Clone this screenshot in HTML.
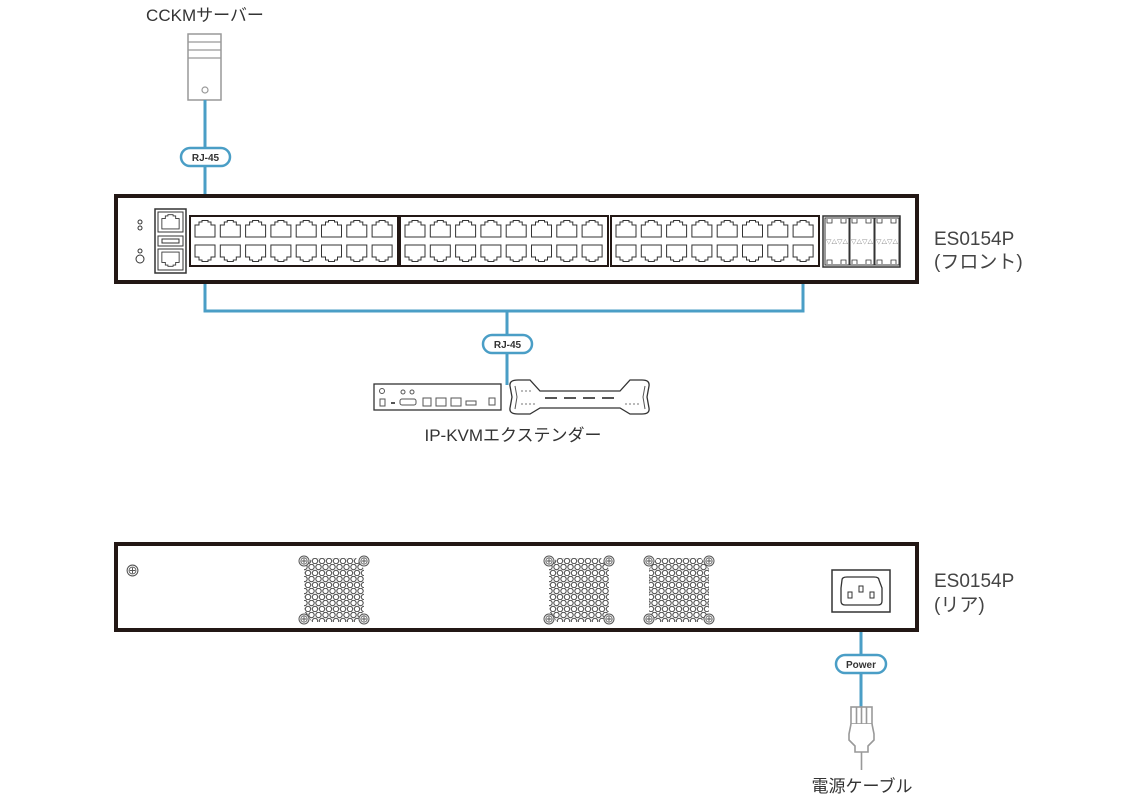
<!DOCTYPE html>
<html><head><meta charset="utf-8"><style>
body{margin:0;background:#fff}
svg{display:block}
text{font-family:"Liberation Sans","Noto Sans CJK JP",sans-serif}
</style></head><body>
<svg id="s" width="1140" height="800" viewBox="0 0 1140 800" xmlns="http://www.w3.org/2000/svg">
<defs>
<symbol id="port" viewBox="0 0 22 18" overflow="visible">
<path d="M1 1 H21 V13 H17 V16 H14 V17.5 H8 V16 H5 V13 H1 Z" fill="#fff" stroke="#333" stroke-width="1"/>
</symbol>
<symbol id="portup" viewBox="0 0 22 18" overflow="visible">
<path d="M1 17 H21 V5 H17 V2 H14 V0.5 H8 V2 H5 V5 H1 Z" fill="#fff" stroke="#333" stroke-width="1"/>
</symbol>
<pattern id="hex" x="0" y="0" width="7" height="12" patternUnits="userSpaceOnUse">
<circle cx="3.5" cy="3" r="2.7" fill="#fff" stroke="#555" stroke-width="1.1"/>
<circle cx="0" cy="9" r="2.7" fill="#fff" stroke="#555" stroke-width="1.1"/>
<circle cx="7" cy="9" r="2.7" fill="#fff" stroke="#555" stroke-width="1.1"/>
</pattern>
<symbol id="screw" viewBox="0 0 12 12" overflow="visible">
<circle cx="6" cy="6" r="5" fill="#fff" stroke="#555" stroke-width="1"/>
<circle cx="6" cy="6" r="3.2" fill="none" stroke="#555" stroke-width="0.8"/>
<path d="M6 3.5V8.5M3.5 6H8.5" stroke="#555" stroke-width="0.9"/>
</symbol>
</defs>

<text x="205" y="21" font-size="17" text-anchor="middle" fill="#333">CCKMサーバー</text>
<rect x="188" y="34" width="33" height="66" fill="#fff" stroke="#999" stroke-width="1.5"/>
<path d="M188 42H221M188 50H221M188 58H221" stroke="#999" stroke-width="1.2"/>
<circle cx="205" cy="90" r="3" fill="none" stroke="#999" stroke-width="1.2"/>

<g stroke="#4a9ec6" stroke-width="3" fill="none">
<path d="M205 100V216"/>
<path d="M205 266V311H803V266"/>
<path d="M507 311V385"/>
<path d="M861 612V722"/>
</g>

<rect x="116" y="196" width="801" height="86" fill="#fff" stroke="#231815" stroke-width="4"/>
<circle cx="140" cy="222" r="2" fill="none" stroke="#333"/>
<circle cx="140" cy="228" r="2" fill="none" stroke="#333"/>
<circle cx="140" cy="251" r="2" fill="none" stroke="#333"/>
<circle cx="140" cy="259" r="4" fill="none" stroke="#333"/>
<rect x="155" y="209" width="31" height="64" fill="#fff" stroke="#333" stroke-width="1.5"/>
<rect x="158" y="212" width="25" height="20" fill="#fff" stroke="#333"/>
<use href="#portup" x="161" y="214" width="19" height="16"/>
<rect x="158" y="236" width="25" height="10" fill="#fff" stroke="#333"/>
<rect x="162" y="239" width="17" height="4" fill="#fff" stroke="#333"/>
<rect x="158" y="249" width="25" height="21" fill="#fff" stroke="#333"/>
<use href="#port" x="161" y="251" width="19" height="16"/>
<g id="groups"></g>
<rect x="823" y="216" width="77" height="51" fill="#fff" stroke="#333" stroke-width="1.5"/>
<g id="sfp"></g>

<text x="934" y="245" font-size="19" fill="#444">ES0154P</text>
<text x="934" y="268" font-size="19" fill="#444">(フロント)</text>

<rect x="181" y="148" width="49" height="18" rx="9" fill="#fff" stroke="#4a9ec6" stroke-width="2.5"/>
<text x="205.5" y="161" font-size="10" font-weight="bold" text-anchor="middle" fill="#333">RJ-45</text>
<rect x="483" y="335" width="49" height="18" rx="9" fill="#fff" stroke="#4a9ec6" stroke-width="2.5"/>
<text x="507.5" y="348" font-size="10" font-weight="bold" text-anchor="middle" fill="#333">RJ-45</text>

<rect x="374" y="384" width="127" height="26" fill="#fff" stroke="#333" stroke-width="1.3"/>
<circle cx="382" cy="391" r="2.5" fill="none" stroke="#555"/>
<circle cx="403" cy="392" r="2" fill="none" stroke="#555"/><circle cx="412" cy="392" r="2" fill="none" stroke="#555"/>
<rect x="380" y="399" width="5" height="7" fill="none" stroke="#555"/>
<rect x="391" y="402" width="4" height="2" fill="#555"/>
<rect x="400" y="399" width="16" height="6" rx="2" fill="none" stroke="#555"/>
<rect x="423" y="398" width="8" height="8" fill="none" stroke="#555"/>
<rect x="436" y="398" width="10" height="8" fill="none" stroke="#555"/>
<rect x="451" y="398" width="10" height="8" fill="none" stroke="#555"/>
<rect x="466" y="401" width="10" height="4" fill="none" stroke="#555"/>
<rect x="489" y="398" width="6" height="7" fill="none" stroke="#555"/>
<path d="M510 386 Q509 380 518 380 H530 L540 391 H620 L630 380 H642 Q650 380 649 386 L647 397 L649 408 Q650 414 642 414 H630 L620 408 H540 L530 414 H518 Q509 414 510 408 L512 397 Z" fill="#fff" stroke="#333" stroke-width="1.3"/>
<path d="M515 386 L517 397 L515 409 M645 386 L643 397 L645 409" fill="none" stroke="#555"/>
<path d="M545 398h12M564 398h12M583 398h12M602 398h12" stroke="#555" stroke-width="2"/>
<g fill="#888"><circle cx="522" cy="391" r="0.9"/><circle cx="526" cy="391" r="0.9"/><circle cx="530" cy="391" r="0.9"/><circle cx="522" cy="404" r="0.9"/><circle cx="526" cy="404" r="0.9"/><circle cx="530" cy="404" r="0.9"/><circle cx="534" cy="404" r="0.9"/><circle cx="626" cy="404" r="0.9"/><circle cx="630" cy="404" r="0.9"/><circle cx="634" cy="404" r="0.9"/><circle cx="638" cy="404" r="0.9"/></g>
<text x="513" y="441" font-size="17" text-anchor="middle" fill="#333">IP-KVMエクステンダー</text>

<rect x="116" y="544" width="801" height="86" fill="#fff" stroke="#231815" stroke-width="4"/>
<use href="#screw" x="126" y="564" width="13" height="13"/>
<g id="fans"></g>
<rect x="832" y="570" width="58" height="42" fill="#fff" stroke="#333" stroke-width="1.5"/>
<path d="M842 580 Q842 577 847 577 H874 Q879 577 879 580 L882 588 V601 Q882 605 878 605 H845 Q841 605 841 601 V588 Z" fill="#fff" stroke="#333" stroke-width="1.3"/>
<rect x="848" y="592" width="4" height="6" fill="none" stroke="#333"/>
<rect x="859" y="586" width="4" height="6" fill="none" stroke="#333"/>
<rect x="870" y="592" width="4" height="6" fill="none" stroke="#333"/>
<text x="934" y="587" font-size="19" fill="#444">ES0154P</text>
<text x="934" y="611" font-size="19" fill="#444">(リア)</text>

<rect x="836" y="655" width="50" height="18" rx="9" fill="#fff" stroke="#4a9ec6" stroke-width="2.5"/>
<text x="861" y="668" font-size="10" font-weight="bold" text-anchor="middle" fill="#333">Power</text>
<g fill="#fff" stroke="#999" stroke-width="1.6">
<rect x="851" y="707" width="21" height="17"/>
<path d="M856.5 707V724M861.5 707V724M866.5 707V724"/>
<path d="M851 724 L849 734 V740 L855 746 V752 H868 V746 L874 740 V734 L872 724"/>
<path d="M861.5 752V770"/>
</g>
<text x="862" y="792" font-size="17" text-anchor="middle" fill="#333">電源ケーブル</text>
</svg>
<script>
var NS="http://www.w3.org/2000/svg";
function el(p,t,a){var e=document.createElementNS(NS,t);for(var k in a)e.setAttribute(k,a[k]);p.appendChild(e);return e;}
var g=document.getElementById("groups");
[190,400,611].forEach(function(x0){
 el(g,"rect",{x:x0,y:216,width:208,height:50,fill:"#fff",stroke:"#231815","stroke-width":2});
 for(var i=0;i<8;i++){
  var x=x0+4+i*25.3;
  el(g,"use",{href:"#portup",x:x,y:220,width:22,height:18});
  el(g,"use",{href:"#port",x:x,y:244,width:22,height:18});
 }
});
var s=document.getElementById("sfp");
for(var i=0;i<3;i++){
 var x=825+i*25;
 el(s,"rect",{x:x,y:218,width:24,height:47,fill:"#fff",stroke:"#333","stroke-width":1});
 el(s,"path",{d:"M"+(x+2)+" 219v4h5v-4M"+(x+16)+" 219v4h5v-4M"+(x+2)+" 264v-4h5v4M"+(x+16)+" 264v-4h5v4",fill:"none",stroke:"#333","stroke-width":0.8});
 var t=el(s,"text",{x:x+12,y:244,"font-size":5.5,"text-anchor":"middle",fill:"#333"});t.textContent="▽△▽△";
}
var f=document.getElementById("fans");
[298,543,643].forEach(function(x0){
 var y0=555;
 el(f,"path",{d:"M"+(x0+14)+" "+(y0+3)+"H"+(x0+58)+"L"+(x0+66)+" "+(y0+14)+"V"+(y0+56)+"L"+(x0+58)+" "+(y0+67)+"H"+(x0+14)+"L"+(x0+6)+" "+(y0+56)+"V"+(y0+14)+"Z",fill:"url(#hex)",stroke:"none"});
 [[0,0],[60,0],[0,58],[60,58]].forEach(function(p){el(f,"use",{href:"#screw",x:x0+p[0],y:y0+p[1],width:12,height:12});});
});
</script>
</body></html>
